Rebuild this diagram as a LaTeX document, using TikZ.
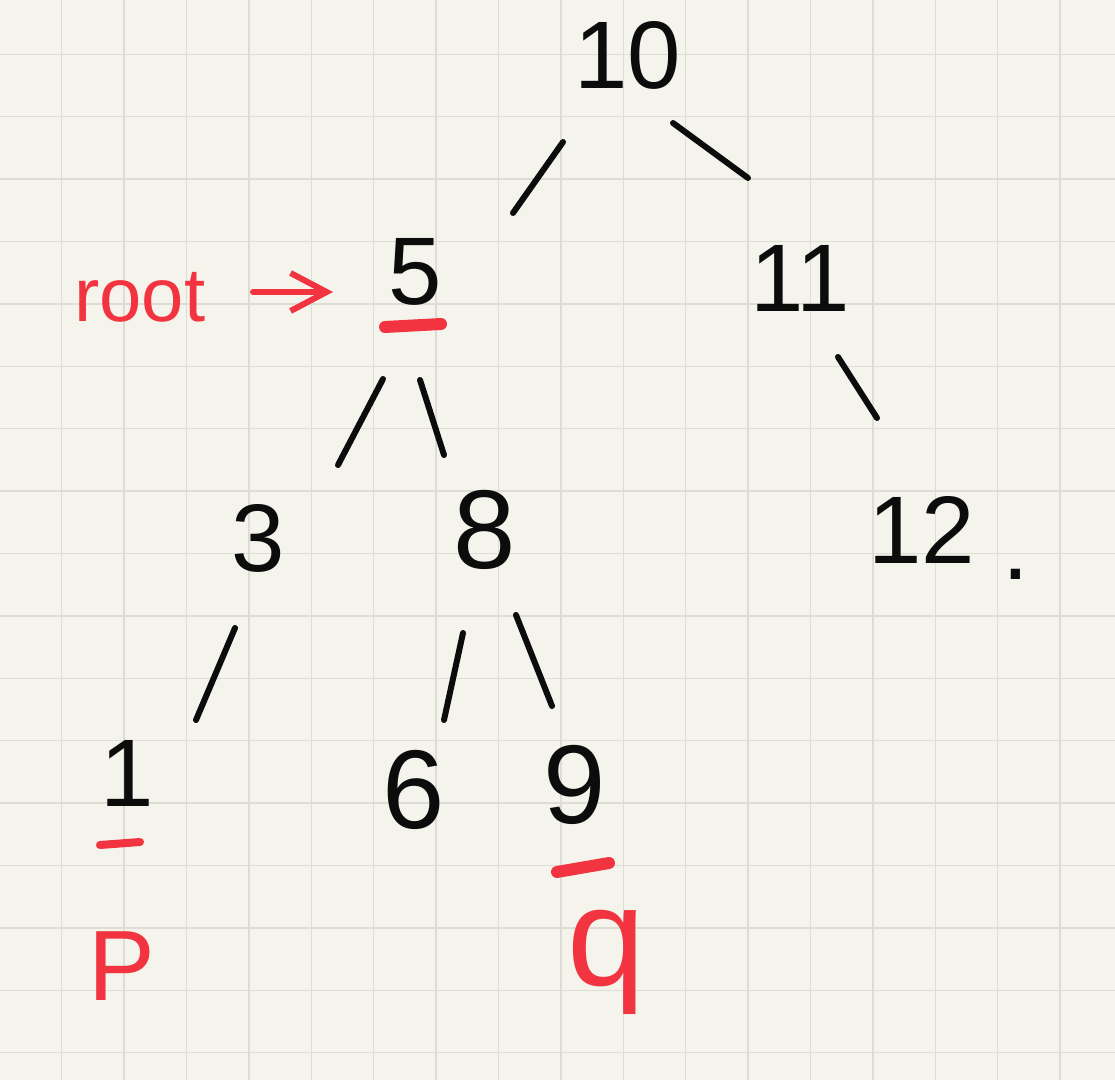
\documentclass[tikz,border=0pt]{standalone}
\usepackage{fontspec}
\setmainfont{Liberation Sans}
\usetikzlibrary{calc,arrows.meta}
\definecolor{paper}{RGB}{244,244,236}
\definecolor{gridc}{RGB}{221,221,214}
\definecolor{ink}{RGB}{12,12,12}
\definecolor{pen}{RGB}{242,52,64}
\begin{document}
\begin{tikzpicture}[x=0.5pt,y=-0.5pt,
  num/.style={font=\fontsize{48}{50}\selectfont, text=ink, inner sep=0pt},
  bignum/.style={font=\fontsize{56}{60}\selectfont, text=ink, inner sep=0pt},
  redtext/.style={text=pen, inner sep=0pt},
  branch/.style={draw=ink, line width=3pt, line cap=round},
  underl/.style={draw=pen, line width=#1, line cap=round},
  gridline/.style={draw=gridc, line width=0.75pt}
]
\fill[paper] (0,0) rectangle (1115,1080);
\useasboundingbox (0,0) rectangle (1115,1080);
\foreach \i in {0,...,16} {
  \draw[gridline] ({61.7+62.4*\i},0) -- ({61.7+62.4*\i},1080);
  \draw[gridline] (0,{54.3+62.4*\i}) -- (1115,{54.3+62.4*\i});
}
% tree nodes
\node[num] (n10) at (628,55) {10};
\node[num] (n5) at (415,272) {5};
\node[num] (n11) at (800,278) {11};
\node[num] (n3) at (258,538) {3};
\node[bignum] (n8) at (485,530) {8};
\node[num] (n12) at (922,530) {12};
\node[num, anchor=base west] (n12dot) at ($(n12.base east)+(26,16)$) {.};
\node[num] (n1) at (127,773) {1};
\node[bignum] (n6) at (414,790) {6};
\node[bignum] (n9) at (575,785) {9};
% branches
\draw[branch] ($(n10)+(-65,87)$) -- ($(n5)+(98,-59)$);
\draw[branch] ($(n10)+(45,68)$) -- ($(n11)+(-52,-100)$);
\draw[branch] ($(n5)+(-32,107)$) -- ($(n3)+(80,-73)$);
\draw[branch] ($(n5)+(5,108)$) -- ($(n8)+(-41,-75)$);
\draw[branch] ($(n11)+(38,79)$) -- ($(n12)+(-45,-112)$);
\draw[branch] ($(n3)+(-23,90)$) -- ($(n1)+(69,-53)$);
\draw[branch] ($(n8)+(-22,103)$) -- ($(n6)+(30,-70)$);
\draw[branch] ($(n8)+(31,85)$) -- ($(n9)+(-23,-79)$);
% red marks
\draw[underl=6pt] ($(n5)+(-30,55)$) -- ($(n5)+(26,52)$);
\draw[underl=4pt] ($(n1)+(-27,72)$) -- ($(n1)+(13,69)$);
\draw[underl=6pt] ($(n9)+(-18,87)$) -- ($(n9)+(34,78)$);
\node[redtext, font=\fontsize{38}{40}\selectfont, anchor=base west] (root) at (74,322) {root};
\draw[pen, line width=3pt, line cap=round, -{Straight Barb[length=18pt,width=19pt]}]
  ($(n5)+(-162,20)$) -- ($(n5)+(-82,20)$);
\node[redtext, font=\fontsize{50}{52}\selectfont, anchor=base] (p) at (122,1000) {P};
\node[redtext, font=\fontsize{70}{72}\selectfont, anchor=base] (q) at (606,985) {q};
\end{tikzpicture}
\end{document}
